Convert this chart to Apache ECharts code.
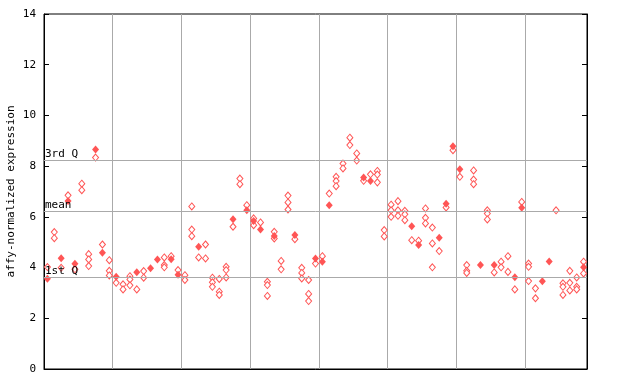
<!DOCTYPE html>
<html><head><meta charset="utf-8">
<script src="https://cdn.jsdelivr.net/npm/echarts@6/dist/echarts.min.js"></script>
<style>html,body{margin:0;padding:0;background:#fff}#c{width:640px;height:384px}</style>
</head><body><div id="c"></div>
<script>
// per-sample values (sample index 0..78), hollow and filled diamonds
const hollowValues = [
 [4.02],[5.40,5.16],[3.99],[6.85],[3.93],[7.31,7.05],[4.53,4.32,4.06],[8.34],[4.91],[4.29,3.87,3.69],
 [3.40],[3.34,3.14],[3.66,3.53,3.30],[3.14],[3.86,3.60],[],[],[4.40,4.10,4.01],[4.45],[3.90],
 [3.70,3.51],[6.41,5.50,5.24],[4.40],[4.91,4.36],[3.60,3.42,3.24],[3.55,3.05,2.92],[4.03,3.90,3.61],[5.61],[7.51,7.29],[6.46],
 [5.94,5.67],[5.78],[3.44,3.31,2.88],[5.41,5.15],[4.26,3.93],[6.84,6.57,6.29],[5.12],[3.99,3.79,3.57],[3.51,2.96,2.68],[4.16],
 [4.45],[6.92],[7.58,7.41,7.21],[8.10,7.91],[9.12,8.83],[8.50,8.22],[7.42],[7.68],[7.81,7.67,7.36],[5.48,5.23],
 [6.48,6.26,6.00],[6.62,6.26,6.04],[6.24,6.10,5.87],[5.08],[5.06],[6.33,5.96,5.74],[5.58,4.95,4.01],[4.65],[6.37],[8.63],
 [7.58],[4.10,3.87,3.79],[7.83,7.47,7.29],[],[6.26,6.13,5.90],[3.81],[4.23,4.01],[4.45,3.83],[3.14],[6.59],
 [4.16,4.03,3.47],[3.18,2.79],[],[],[6.26],[3.38,3.24,2.92],[3.87,3.40,3.10],[3.61,3.24,3.14],[4.23,3.77]
];
const filledValues = [
 [3.56],[],[4.37],[6.63],[4.15],[],[],[8.66],[4.58],[],
 [3.64],[],[],[3.82],[],[3.97],[4.32],[],[4.33],[3.72],
 [],[],[4.82],[],[],[],[],[5.91],[],[6.26],
 [5.84],[5.50],[],[5.25],[],[],[5.28],[],[],[4.36],
 [4.23],[6.46],[],[],[],[],[7.55],[7.41],[],[],
 [],[],[],[5.63],[4.89],[],[],[5.18],[6.52],[8.78],
 [7.88],[],[],[4.10],[],[4.10],[],[],[3.62],[6.36],
 [],[],[3.46],[4.24],[],[],[],[],[4.01]
];
const quartileNames = ['3rd Q','mean','1st Q'];
const quartileValues = [8.23, 6.22, 3.61];
const yTicks = [0,2,4,6,8,10,12,14];

const RED = '#ff5555';
function toPoints(arr){
  const out = [];
  arr.forEach((vals,i)=>vals.forEach(v=>out.push([i+0.5, v])));
  return out;
}
const font = 'DejaVu Sans Mono';
const chart = echarts.init(document.getElementById('c'), null, {renderer:'canvas'});
chart.setOption({
  animation:false,
  grid:{left:44, right:53, top:14, bottom:15, containLabel:false, outerBoundsMode:'none',
        show:true, borderColor:'#000', borderWidth:1},
  xAxis:{type:'value', min:0, max:hollowValues.length, interval:10,
    axisLine:{show:true, lineStyle:{color:'#000'}}, axisTick:{show:false}, axisLabel:{show:false},
    splitLine:{show:true, lineStyle:{color:'#aaaaaa', width:1}}},
  yAxis:[{type:'value', min:yTicks[0], max:yTicks[yTicks.length-1], interval:2,
    name:'affy-normalized expression', nameLocation:'middle', nameRotate:90, nameGap:27,
    nameMoveOverlap:false,
    nameTextStyle:{fontFamily:font, fontSize:11, color:'#000'},
    axisLine:{show:true, lineStyle:{color:'#000'}},
    axisTick:{show:true, inside:true, length:5, lineStyle:{color:'#000'}},
    axisLabel:{fontFamily:font, fontSize:11, color:'#000', margin:8},
    splitLine:{show:false}},
   {type:'value', position:'right', min:yTicks[0], max:yTicks[yTicks.length-1], interval:2,
    axisLine:{show:true, lineStyle:{color:'#000'}},
    axisTick:{show:true, inside:true, length:5, lineStyle:{color:'#000'}},
    axisLabel:{show:false}, splitLine:{show:false}}],
  series:[
    {type:'scatter', data:[], silent:true,
     markLine:{silent:true, symbol:'none', animation:false,
       lineStyle:{color:'#aaaaaa', type:'solid', width:1},
       label:{show:true, position:'insideStartTop', distance:[1,1], fontFamily:font, fontSize:11, color:'#000',
         formatter:p=>p.name},
       data:quartileNames.map((n,k)=>({name:n, yAxis:quartileValues[k]}))}},
    {type:'scatter', data:toPoints(hollowValues), symbol:'diamond', symbolSize:[6,7],
     itemStyle:{color:'#ffffff', borderColor:RED, borderWidth:1, opacity:1}},
    {type:'scatter', data:toPoints(filledValues), symbol:'diamond', symbolSize:[7,8],
     itemStyle:{color:RED, opacity:1}}
  ]
});
</script></body></html>
